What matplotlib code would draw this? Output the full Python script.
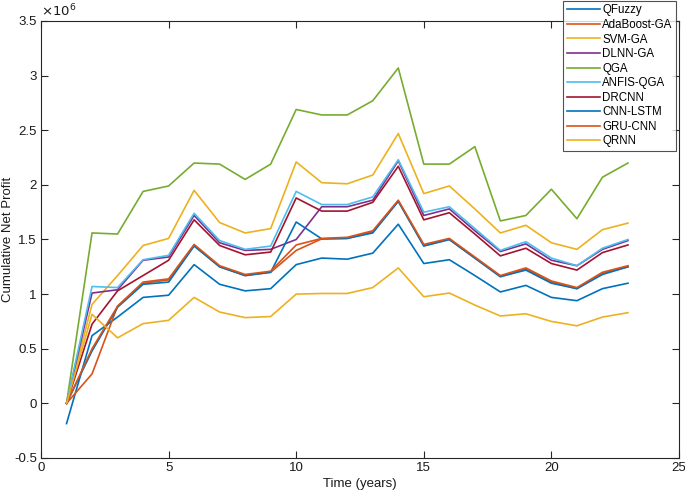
import matplotlib
matplotlib.use("Agg")
import matplotlib.pyplot as plt
from matplotlib.ticker import FixedLocator, FuncFormatter

plt.rcParams['font.family'] = ['Liberation Sans', 'DejaVu Sans']
plt.rcParams['axes.unicode_minus'] = False

years = list(range(1, 24))

qfuzzy    = [-0.185, 0.62, 0.79, 0.97, 0.99, 1.27, 1.09, 1.03, 1.05, 1.27, 1.33, 1.32, 1.375, 1.64, 1.28, 1.315, 1.17, 1.02, 1.08, 0.97, 0.94, 1.05, 1.10]
adaboost  = [0.0, 0.27, 0.89, 1.10, 1.13, 1.445, 1.25, 1.17, 1.20, 1.40, 1.506, 1.51, 1.57, 1.85, 1.445, 1.50, 1.33, 1.16, 1.23, 1.11, 1.05, 1.19, 1.25]
svm_ga    = [0.0, 0.906, 1.17, 1.445, 1.51, 1.95, 1.655, 1.56, 1.60, 2.21, 2.02, 2.01, 2.09, 2.47, 1.92, 1.99, 1.78, 1.56, 1.63, 1.47, 1.41, 1.59, 1.65]
dlnn_ga   = [0.0, 1.01, 1.04, 1.31, 1.34, 1.72, 1.47, 1.40, 1.41, 1.50, 1.80, 1.80, 1.86, 2.22, 1.72, 1.78, 1.58, 1.39, 1.46, 1.31, 1.26, 1.41, 1.49]
qga       = [0.0, 1.56, 1.55, 1.94, 1.99, 2.20, 2.19, 2.05, 2.19, 2.69, 2.64, 2.64, 2.77, 3.07, 2.19, 2.19, 2.35, 1.67, 1.72, 1.96, 1.69, 2.07, 2.20]
anfis_qga = [0.0, 1.07, 1.06, 1.315, 1.355, 1.74, 1.49, 1.41, 1.44, 1.94, 1.82, 1.82, 1.89, 2.23, 1.75, 1.80, 1.60, 1.40, 1.48, 1.33, 1.26, 1.42, 1.50]
drcnn     = [0.0, 0.725, 1.03, 1.17, 1.31, 1.68, 1.445, 1.36, 1.385, 1.88, 1.76, 1.76, 1.84, 2.17, 1.68, 1.745, 1.55, 1.35, 1.42, 1.28, 1.22, 1.38, 1.45]
cnn_lstm  = [0.0, 0.48, 0.88, 1.09, 1.11, 1.44, 1.25, 1.17, 1.20, 1.66, 1.506, 1.51, 1.56, 1.85, 1.44, 1.50, 1.33, 1.16, 1.22, 1.10, 1.05, 1.18, 1.25]
gru_cnn   = [0.0, 0.50, 0.89, 1.11, 1.14, 1.455, 1.26, 1.18, 1.21, 1.45, 1.51, 1.52, 1.58, 1.86, 1.455, 1.51, 1.34, 1.17, 1.24, 1.12, 1.06, 1.20, 1.26]
qrnn      = [0.0, 0.815, 0.60, 0.73, 0.76, 0.97, 0.836, 0.785, 0.795, 1.00, 1.006, 1.006, 1.06, 1.24, 0.976, 1.01, 0.90, 0.80, 0.82, 0.75, 0.71, 0.79, 0.83]

labels = ['QFuzzy', 'AdaBoost-GA', 'SVM-GA', 'DLNN-GA', 'QGA', 'ANFIS-QGA',
          'DRCNN', 'CNN-LSTM', 'GRU-CNN', 'QRNN']
series = [qfuzzy, adaboost, svm_ga, dlnn_ga, qga, anfis_qga, drcnn, cnn_lstm, gru_cnn, qrnn]
colors = ['#0072BD', '#D95319', '#EDB120', '#7E2F8E', '#77AC30', '#4DBEEE',
          '#A2142F', '#0072BD', '#D95319', '#EDB120']

x_ticks = [0, 5, 10, 15, 20, 25]
y_ticks = [-0.5, 0, 0.5, 1, 1.5, 2, 2.5, 3, 3.5]

fig = plt.figure(figsize=(6.85, 4.95), dpi=100)
ax = fig.add_axes([41/685, 1 - 458/495, (679-41)/685, (458-21)/495])

for vals, lab, col in zip(series, labels, colors):
    ax.plot(years, vals, color=col, lw=1.2, label=lab)

ax.set_xlim(0, 25)
ax.set_ylim(-0.5, 3.5)
ax.xaxis.set_major_locator(FixedLocator(x_ticks))
ax.yaxis.set_major_locator(FixedLocator(y_ticks))
ax.yaxis.set_major_formatter(FuncFormatter(lambda v, p: ('%g' % v)))

axc = '#262626'
for s in ax.spines.values():
    s.set_color(axc)
    s.set_linewidth(0.8)
ax.tick_params(direction='in', top=True, right=True, length=5, width=0.8,
               color=axc, labelcolor='#1a1a1a', labelsize=9.5, pad=3)

ax.set_xlabel('Time (years)', fontsize=9.5, color='#1a1a1a', labelpad=3)
ax.set_ylabel('Cumulative Net Profit', fontsize=9.5, color='#1a1a1a')
ax.yaxis.set_label_coords(-0.043, 0.5)
ax.text(0.0, 1.005, r'$\times10^{6}$', transform=ax.transAxes, fontsize=9.5,
        ha='left', va='bottom', color='#1a1a1a')

leg = ax.legend(loc='upper right', bbox_to_anchor=(676/685, 1 - 1/495),
                bbox_transform=fig.transFigure, fontsize=8.3, frameon=True,
                fancybox=False, borderaxespad=0, handlelength=2.9,
                handletextpad=0.2, labelspacing=0.22, borderpad=0.3)
leg.get_frame().set_edgecolor(axc)
leg.get_frame().set_linewidth(0.8)

fig.savefig('out.png', dpi=100)
